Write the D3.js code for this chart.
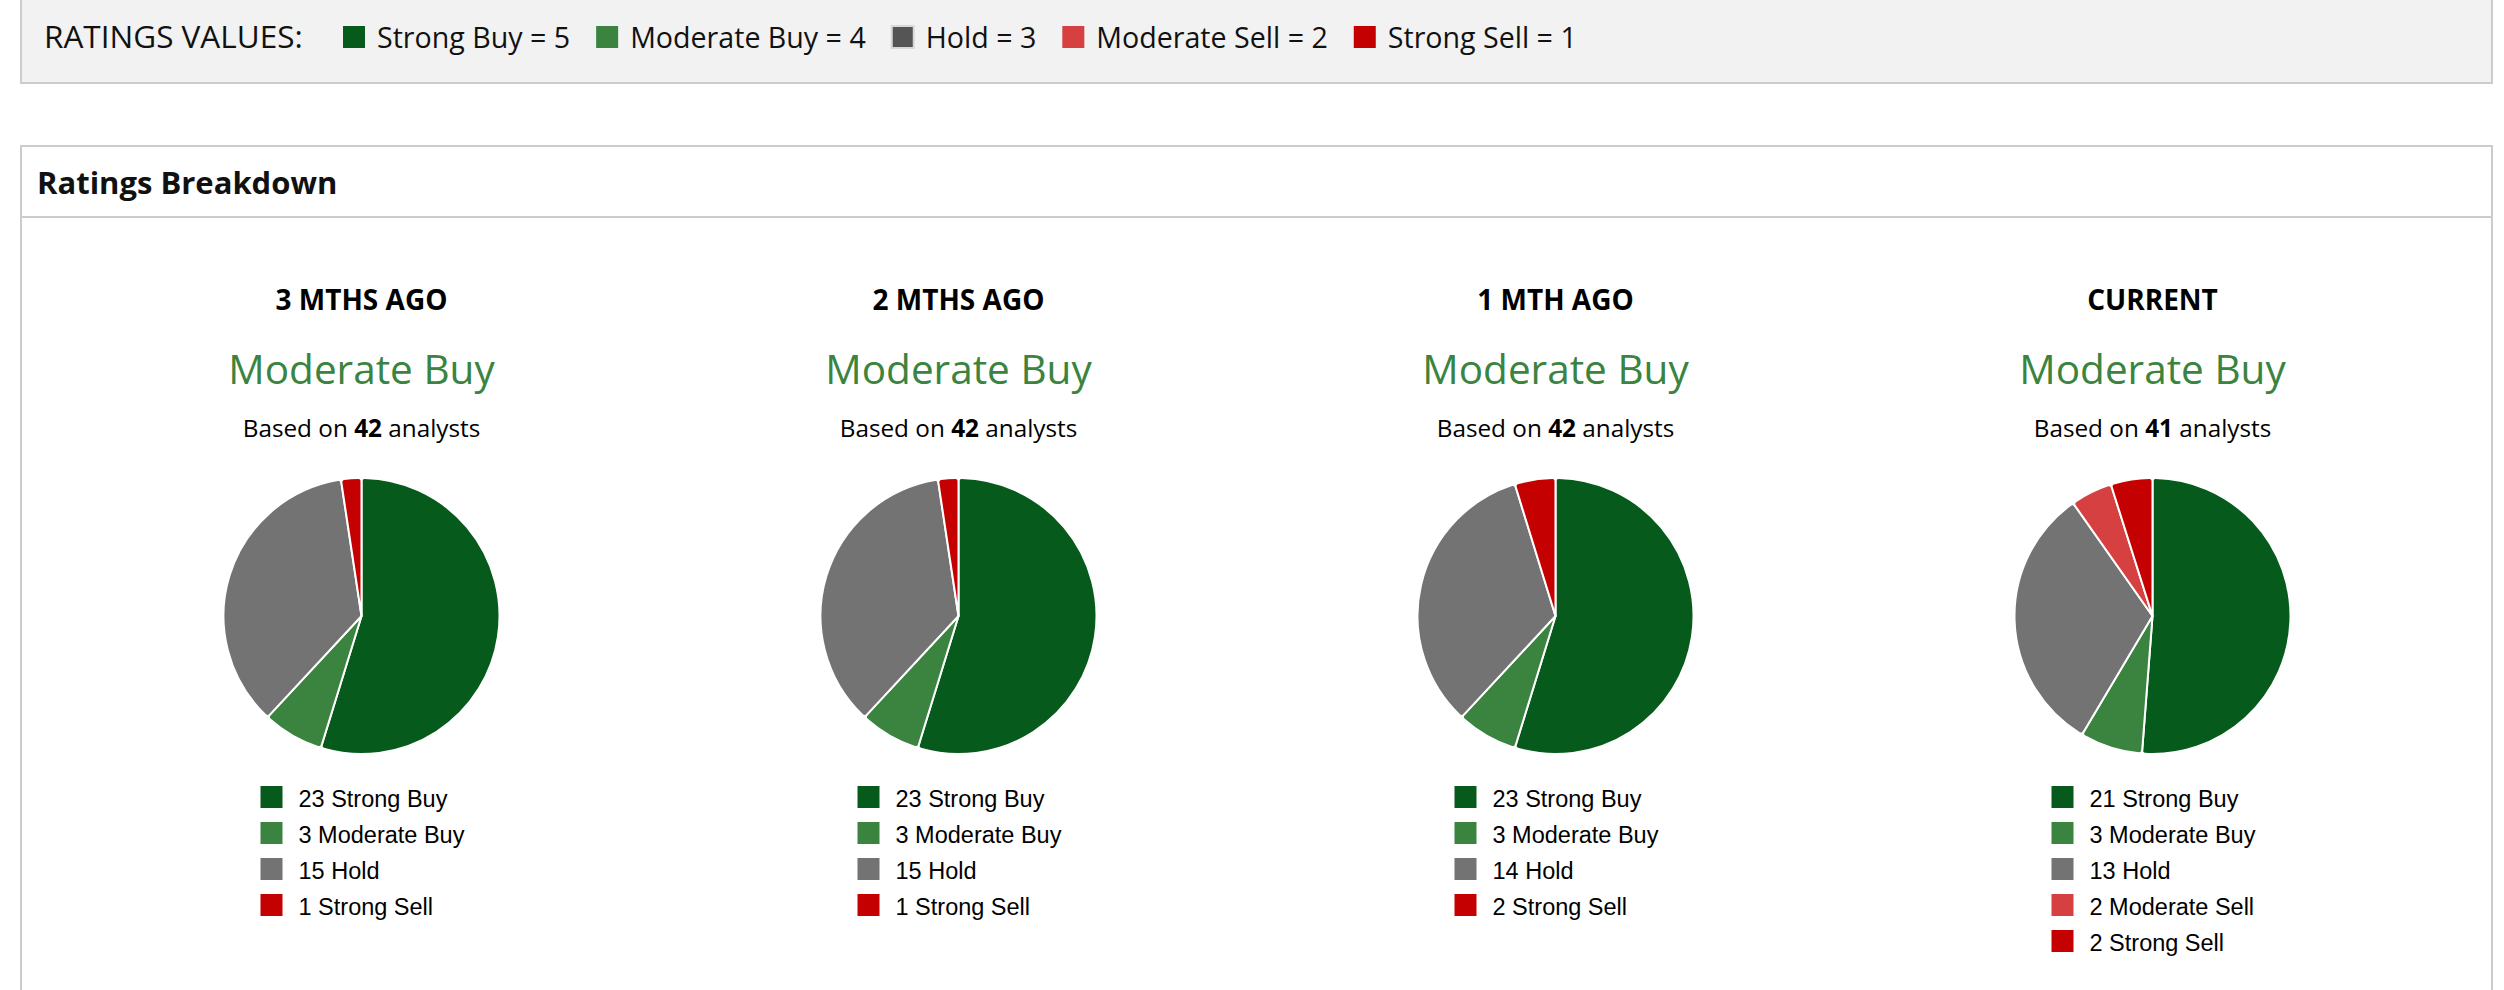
<!DOCTYPE html>
<html>
<head>
<meta charset="utf-8">
<script src="https://cdn.jsdelivr.net/npm/d3@7"></script>
<style>
  body { margin: 0; background: #fff; }
  svg { display: block; }
</style>
</head>
<body>
<div id="chart"></div>
<script>
// rating scale shown in the top legend
var ratingNames = ['Strong Buy', 'Moderate Buy', 'Hold', 'Moderate Sell', 'Strong Sell'];
var ratingValues = [5, 4, 3, 2, 1];
var ratingColors = ['#065a1c', '#3a843f', '#737373', '#d64040', '#c50000'];
var keyColors = ['#065a1c', '#3a843f', '#555555', '#d64040', '#c50000'];

// one pie per period
var periods = ['3 MTHS AGO', '2 MTHS AGO', '1 MTH AGO', 'CURRENT'];
var consensus = ['Moderate Buy', 'Moderate Buy', 'Moderate Buy', 'Moderate Buy'];
var analysts = [42, 42, 42, 41];
var strongBuy = [23, 23, 23, 21];
var moderateBuy = [3, 3, 3, 3];
var hold = [15, 15, 14, 13];
var moderateSell = [0, 0, 0, 2];
var strongSell = [1, 1, 2, 2];

var W = 2504, H = 990;
var headFont = "'Open Sans', 'Noto Sans', sans-serif";
var legendFont = "'Liberation Sans', Arial, sans-serif";

var svg = d3.select('#chart').append('svg')
  .attr('width', W)
  .attr('height', H);

// ---- top "ratings values" box
svg.append('rect')
  .attr('x', 21).attr('y', -4)
  .attr('width', 2471).attr('height', 87)
  .attr('fill', '#f2f2f2')
  .attr('stroke', '#cccccc')
  .attr('stroke-width', 2);

svg.append('text')
  .attr('x', 44).attr('y', 48)
  .attr('font-family', headFont)
  .attr('font-size', 31.5)
  .attr('fill', '#111')
  .text('RATINGS VALUES:');

var kx = 343;
ratingNames.forEach(function (name, i) {
  svg.append('rect')
    .attr('x', kx).attr('y', 26)
    .attr('width', 22).attr('height', 22)
    .attr('fill', keyColors[i])
    .attr('stroke', name === 'Hold' ? '#d8d8d8' : 'none')
    .attr('stroke-width', 2);
  var t = svg.append('text')
    .attr('x', kx + 34).attr('y', 48)
    .attr('font-family', headFont)
    .attr('font-size', 28.6)
    .attr('fill', '#111')
    .text(name + ' = ' + ratingValues[i]);
  kx += 34 + t.node().getComputedTextLength() + 26;
});

// ---- breakdown panel
svg.append('rect')
  .attr('x', 21).attr('y', 146)
  .attr('width', 2471).attr('height', 900)
  .attr('fill', '#fff')
  .attr('stroke', '#cccccc')
  .attr('stroke-width', 2);

svg.append('line')
  .attr('x1', 21).attr('x2', 2492)
  .attr('y1', 217).attr('y2', 217)
  .attr('stroke', '#cccccc')
  .attr('stroke-width', 2);

svg.append('text')
  .attr('x', 37).attr('y', 194)
  .attr('font-family', headFont)
  .attr('font-weight', 700)
  .attr('font-size', 31)
  .attr('fill', '#111')
  .text('Ratings Breakdown');

var x = d3.scaleBand()
  .domain(periods)
  .range([63, 2451]);

var radius = 138;
var pie = d3.pie().sort(null).value(function (d) { return d.count; });
var arc = d3.arc().innerRadius(0).outerRadius(radius).cornerRadius(3);

periods.forEach(function (p, i) {
  var cx = x(p) + x.bandwidth() / 2;
  var counts = [strongBuy[i], moderateBuy[i], hold[i], moderateSell[i], strongSell[i]];
  var slices = ratingNames.map(function (n, j) {
    return { name: n, count: counts[j], color: ratingColors[j] };
  }).filter(function (d) { return d.count > 0; });

  var g = svg.append('g');

  g.append('text')
    .attr('x', cx).attr('y', 310)
    .attr('text-anchor', 'middle')
    .attr('font-family', headFont)
    .attr('font-weight', 700)
    .attr('font-size', 28)
    .attr('fill', '#000')
    .text(p);

  g.append('text')
    .attr('x', cx).attr('y', 384)
    .attr('text-anchor', 'middle')
    .attr('font-family', headFont)
    .attr('font-size', 40.5)
    .attr('fill', '#3a843f')
    .text(consensus[i]);

  var based = g.append('text')
    .attr('x', cx).attr('y', 437)
    .attr('text-anchor', 'middle')
    .attr('font-family', headFont)
    .attr('font-size', 24.3)
    .attr('fill', '#000');
  based.append('tspan').text('Based on ');
  based.append('tspan').attr('font-weight', 700).text(analysts[i]);
  based.append('tspan').text(' analysts');

  g.append('g')
    .attr('transform', 'translate(' + cx + ',616)')
    .selectAll('path')
    .data(pie(slices))
    .enter()
    .append('path')
    .attr('d', arc)
    .attr('fill', function (d) { return d.data.color; })
    .attr('stroke', '#fff')
    .attr('stroke-width', 2)
    .attr('stroke-linejoin', 'round');

  var rows = g.selectAll('.row')
    .data(slices)
    .enter()
    .append('g')
    .attr('class', 'row')
    .attr('transform', function (d, j) {
      return 'translate(' + (cx - 101) + ',' + (786 + j * 36) + ')';
    });

  rows.append('rect')
    .attr('width', 22).attr('height', 22)
    .attr('fill', function (d) { return d.color; });

  rows.append('text')
    .attr('x', 38).attr('y', 21)
    .attr('font-family', legendFont)
    .attr('font-size', 23.5)
    .attr('fill', '#000')
    .text(function (d) { return d.count + ' ' + d.name; });
});
</script>
</body>
</html>
